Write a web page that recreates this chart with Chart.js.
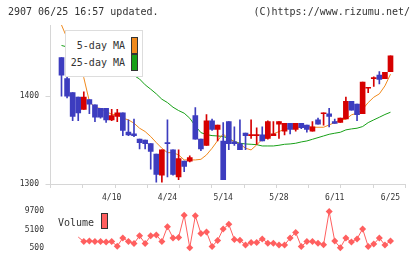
<!DOCTYPE html>
<html>
<head>
<meta charset="utf-8">
<script src="https://cdn.jsdelivr.net/npm/chart.js@4/dist/chart.umd.min.js"></script>
<style>
body{margin:0;background:#fff;width:420px;height:259px;overflow:hidden;position:relative;font-family:"DejaVu Sans Mono",monospace;color:#333}
canvas{position:absolute;left:0}
#main{top:0}
#vol{top:200px}
.t{position:absolute;font-size:10px;line-height:12px;white-space:nowrap;z-index:3}
.sw{position:absolute;box-sizing:border-box;border:1px solid #333;z-index:3}
#lg{position:absolute;left:65px;top:30px;width:78px;height:47px;box-sizing:border-box;border:1px solid #ddd;background:#fff;z-index:2}
</style>
</head>
<body>
<div class="t" style="left:8px;top:6px">2907 06/25 16:57 updated.</div>
<div class="t" style="right:10px;top:6px">(C)https://www.rizumu.net/</div>

<canvas id="main" width="420" height="205"></canvas>
<canvas id="vol" width="420" height="59"></canvas>

<div id="lg"></div>
<div class="t" style="right:295px;top:40px">5-day MA</div>
<div class="sw" style="left:131px;top:37px;width:7px;height:17px;background:#f08a1d"></div>
<div class="t" style="right:295px;top:57px">25-day MA</div>
<div class="sw" style="left:131px;top:54px;width:7px;height:17px;background:#17a017"></div>

<div class="t" style="left:58px;top:217px">Volume</div>
<div class="sw" style="left:101px;top:213px;width:7px;height:16px;background:#ff5f5f"></div>

<script>
// precios (60 sesiones)
const opens  = [1444,1420,1404,1399,1385,1396,1390,1386,1386,1373,1377,1381,1359,1357,1351,1350,1346,1334,1310,1347,
                1339,1308,1326,1326,1378,1351,1344,1372,1362,1349,1371,1348,1346,1358,1355,1355,1356,1352,1355,1368,
                1360,1369,1362,1369,1367,1360,1373,1380,1380,1371,1370,1374,1394,1391,1380,1409,1420,1424,1420,1428];
const highs  = [1444,1422,1404,1399,1405,1396,1390,1386,1386,1385,1385,1381,1373,1374,1351,1350,1346,1334,1339,1373,
                1339,1339,1326,1332,1387,1351,1379,1374,1367,1370,1371,1365,1373,1358,1373,1364,1365,1372,1371,1371,
                1369,1369,1369,1369,1367,1371,1375,1381,1386,1374,1375,1399,1394,1391,1416,1410,1422,1428,1427,1446];
const lows   = [1400,1398,1372,1372,1385,1380,1371,1375,1370,1372,1371,1355,1355,1354,1340,1340,1317,1302,1302,1308,
                1310,1305,1314,1325,1351,1338,1344,1361,1349,1305,1339,1344,1339,1339,1352,1345,1349,1351,1355,1352,
                1356,1357,1360,1363,1359,1360,1368,1367,1365,1369,1370,1374,1384,1372,1380,1404,1411,1414,1420,1428];
const closes = [1424,1400,1377,1381,1399,1391,1376,1376,1373,1378,1381,1361,1356,1355,1347,1346,1337,1311,1339,1346,
                1311,1329,1320,1330,1351,1340,1372,1362,1367,1305,1346,1346,1339,1355,1356,1356,1349,1371,1357,1371,
                1369,1362,1369,1364,1362,1365,1368,1381,1377,1369,1375,1394,1384,1379,1416,1410,1421,1419,1427,1446];

// medias moviles
const ma5  = [1481,1466,1451,1436,1421,1394,1387,1386,1382.5,1379.4,1378.7,1374.9,1373,1369.2,1363.5,1359.7,1354,1347.1,1340.7,1335.7,
              1335.7,1333.1,1327.4,1327.4,1327.4,1328.1,1333.1,1340.7,1349.4,1357,1350.9,1348.3,1345.6,1340.7,1338.8,1344.5,1350.9,1352.1,1357,1359.7,
              1362.3,1363.5,1364.6,1364.6,1365.4,1364.6,1364.6,1364.6,1367.3,1369.9,1373,1373.7,1378.7,1380.6,1385.1,1392.7,1398.8,1402.6,1411.7,1425];
const ma25 = [1457.7,1456,1454,1452,1450,1448,1445.5,1443,1440,1437,1434,1431,1427.5,1423.5,1419.5,1412.9,1407.9,1402.6,1396.5,1392.7,
              1387.4,1383.6,1380.6,1374.9,1366.1,1358.5,1356.2,1355.1,1354.7,1354,1352,1348.3,1346.4,1345.6,1345.2,1344.8,1343.3,1343.3,1343.3,1344.1,
              1345.2,1345.6,1346.4,1347.9,1349,1350.9,1352.8,1354.7,1356.6,1357.8,1358.9,1361.6,1362.7,1363.5,1365.4,1369.9,1373,1376,1379.1,1381.7];

// volumen
const vols = [null,null,null,3190,2040,2180,2040,2040,1950,2040,890,2960,2040,1580,3490,1580,3490,3720,2040,5790,
              2960,3100,8710,500,8550,4110,4480,800,2340,5250,6400,2570,2410,1190,1810,1810,2730,1650,1650,1190,
              1190,2960,4340,800,2040,2040,1650,1270,9630,2180,500,2960,1950,2730,5250,800,1420,2960,1190,2180];

const dateLabels = ['4/10','4/24','5/14','5/28','6/11','6/25'];
const dateIdx = [9,19,29,39,49,59];
const priceTicks = [1300,1400];
const volTicks = [500,5100,9700];

const RED = '#d60000', BLUE = '#3d3dbf', AXIS = '#d6d6d6';
const xMin = -1.973, xMax = 61.69;
const fnt = {family:'DejaVu Sans Mono', size:8};
const candleCol = ctx => closes[ctx.dataIndex] >= opens[ctx.dataIndex] ? RED : BLUE;
const plain = v => String(v);

new Chart(document.getElementById('main'), {
  type: 'bar',
  data: {
    datasets: [
      {data: highs.map((h, i) => ({x: i, y: [lows[i], h]})), backgroundColor: candleCol, barThickness: 1, grouped: false, order: 0},
      {data: opens.map((o, i) => ({x: i, y: [o, closes[i]]})), backgroundColor: candleCol, barThickness: 5, minBarLength: 1, grouped: false, order: 0},
      {type: 'line', data: ma5.map((v, i) => ({x: i, y: v})), borderColor: '#f08a1d', borderWidth: 1, pointRadius: 0, order: 1},
      {type: 'line', data: ma25.map((v, i) => ({x: i, y: v})), borderColor: '#17a017', borderWidth: 1, pointRadius: 0, order: 1}
    ]
  },
  options: {
    responsive: false, animation: false,
    layout: {padding: {top: 25, right: 14.5, left: 0, bottom: 0}},
    plugins: {legend: {display: false}, tooltip: {enabled: false}},
    scales: {
      x: {
        type: 'linear', min: xMin, max: xMax, offset: false,
        afterBuildTicks: s => {
          const t = [];
          for (let k = 0; k <= 11; k++) t.push({value: xMin + k * (xMax - xMin) / 11, g: true});
          dateIdx.forEach((d, j) => t.push({value: d, lab: dateLabels[j]}));
          s.ticks = t;
        },
        afterFit: s => { s.height = 21; },
        grid: {offset: false, drawOnChartArea: false, tickLength: 4, color: c => (c.tick && c.tick.g) ? AXIS : 'rgba(0,0,0,0)'},
        border: {color: AXIS},
        ticks: {autoSkip: false, maxRotation: 0, padding: 5, font: fnt, color: '#333', callback: (v, i, t) => t[i].lab || ''}
      },
      y: {
        min: 1300, max: 1481,
        afterBuildTicks: s => { s.ticks = priceTicks.map(v => ({value: v})); },
        afterFit: s => { s.width = 50.5; },
        grid: {drawOnChartArea: false, tickLength: 5, color: AXIS},
        border: {color: AXIS},
        ticks: {padding: 6.5, font: fnt, color: '#333', callback: plain}
      }
    }
  }
});

new Chart(document.getElementById('vol'), {
  type: 'line',
  data: {
    datasets: [{
      data: vols.map((v, i) => ({x: i, y: v})),
      borderColor: '#ff5f5f', backgroundColor: '#ff5f5f', borderWidth: 1,
      pointStyle: 'rectRot', pointRadius: ctx => ctx.dataIndex === 3 ? 0 : 3.5, pointBorderWidth: 0,
      clip: false
    }]
  },
  options: {
    responsive: false, animation: false,
    layout: {padding: {top: 9.3, right: 14.5, left: 0, bottom: 10}},
    plugins: {legend: {display: false}, tooltip: {enabled: false}},
    scales: {
      x: {type: 'linear', min: xMin, max: xMax, display: false},
      y: {
        min: 500, max: 9700,
        afterBuildTicks: s => { s.ticks = volTicks.map(v => ({value: v})); },
        afterFit: s => { s.width = 50.5; },
        grid: {display: false, drawTicks: false},
        border: {display: false},
        ticks: {padding: 6.5, font: fnt, color: '#333', callback: plain}
      }
    }
  }
});
</script>
</body>
</html>
